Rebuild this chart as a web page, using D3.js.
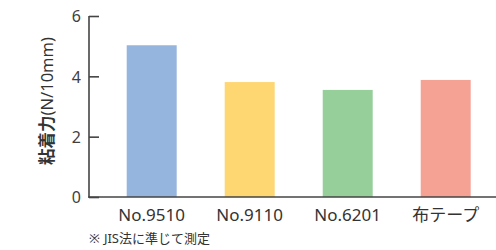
<!DOCTYPE html>
<html><head><meta charset="utf-8">
<script src="https://cdn.jsdelivr.net/npm/d3@7"></script>
<style>body{margin:0;background:#fff}svg{display:block}</style>
</head><body><svg id="c" width="496" height="250"></svg>
<script>
const categories = ["No.9510", "No.9110", "No.6201", "布テープ"];
const values = [5.03, 3.81, 3.55, 3.88];
const colors = ["#95b4de", "#fed672", "#97cf9b", "#f5a193"];
const yTicks = [0, 2, 4, 6];

const svg = d3.select("#c");
const font = "'Noto Sans', 'Noto Sans CJK JP', sans-serif";
const x = d3.scaleBand().domain(categories).range([102.7, 494.7]).paddingInner(0.49).paddingOuter(0.245);
const y = d3.scaleLinear().domain([0, 6]).range([197, 16]);

svg.append("g").selectAll("rect").data(values).join("rect")
  .attr("x", (d, i) => x(categories[i]))
  .attr("width", x.bandwidth())
  .attr("y", d => y(d))
  .attr("height", d => y(0) - y(d))
  .attr("fill", (d, i) => colors[i]);

const ya = svg.append("g").attr("transform", "translate(89,0)")
  .call(d3.axisRight(y).tickValues(yTicks).tickSize(10).tickFormat(d3.format("d")));
ya.select(".domain").remove();
ya.selectAll("line").attr("stroke", "#444").attr("stroke-width", 1.6);
ya.selectAll("text").attr("x", -8).attr("text-anchor", "end")
  .attr("font-family", font).attr("font-size", 16).attr("fill", "#404040").attr("dy", "0.36em");

svg.append("line").attr("x1", 89).attr("x2", 89).attr("y1", 16).attr("y2", 197.8)
  .attr("stroke", "#444").attr("stroke-width", 1.6);
svg.append("line").attr("x1", 88.2).attr("x2", 496).attr("y1", 197).attr("y2", 197)
  .attr("stroke", "#444").attr("stroke-width", 1.6);

svg.append("g").selectAll("text").data(categories).join("text")
  .attr("x", d => x(d) + x.bandwidth() / 2)
  .attr("y", 221)
  .attr("text-anchor", "middle")
  .attr("font-family", font).attr("font-size", 17).attr("fill", "#333")
  .text(d => d);

const yl = svg.append("text")
  .attr("transform", "translate(53,101) rotate(-90)")
  .attr("text-anchor", "middle")
  .attr("font-family", font).attr("font-size", 16.5).attr("fill", "#333");
yl.append("tspan").attr("font-weight", "bold").text("粘着力");
yl.append("tspan").text("(N/10mm)");

const fn = svg.append("text").attr("x", 89).attr("y", 243)
  .attr("font-family", font).attr("font-size", 13).attr("fill", "#333");
fn.append("tspan").text("※");
fn.append("tspan").attr("dx", 4).text("JIS法に準じて測定");
</script></body></html>
